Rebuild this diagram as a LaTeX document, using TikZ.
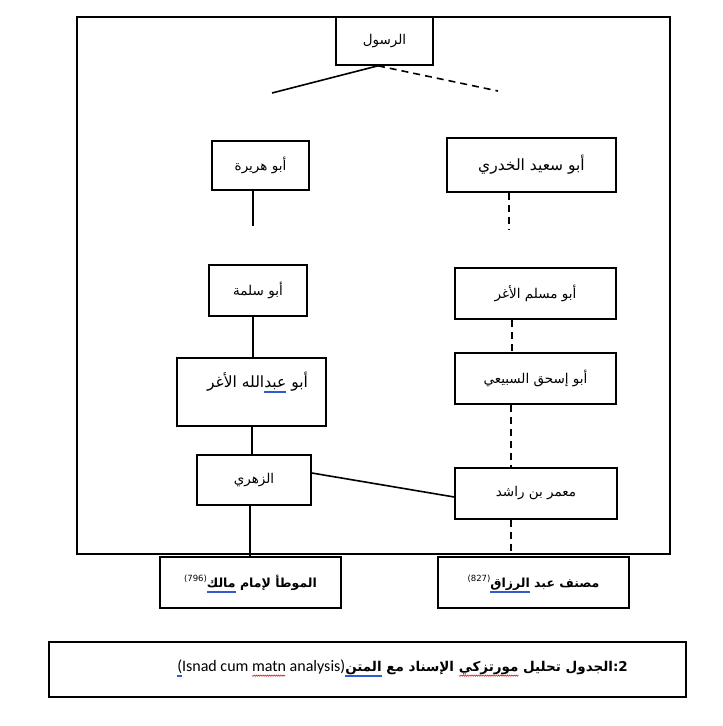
\documentclass[tikz,border=0pt]{standalone}
\usepackage{fontspec}
\TeXXeTstate=1
\newfontfamily\arabicfont[Script=Arabic]{DejaVu Sans}
\newfontfamily\latinfont{Carlito}
\makeatletter
\newsavebox\ulbox
\newcount\zzc
\newdimen\zzx
\newcommand\ulbp{\expandafter\rem@pt\the\dimexpr\wd\ulbox*7200/7227\relax}
\newcommand\blueul{q 0.196 0.353 0.824 rg 0 -4.2 \ulbp\space 0.6 re f 0 -5.8 \ulbp\space 0.6 re f Q}
\newcommand\zzbuild{\zzc=0 \zzx=0pt \edef\zzpath{0 -4.6 m}%
  \loop\advance\zzc by 1 \advance\zzx by 1.1pt
  \ifdim\zzx<\wd\ulbox
    \ifodd\zzc\edef\zzpath{\zzpath\space\expandafter\rem@pt\the\zzx\space -5.3 l}%
    \else\edef\zzpath{\zzpath\space\expandafter\rem@pt\the\zzx\space -3.9 l}\fi
  \repeat}
% R variants: used inside \beginR...\endR, where the inner box is output reversed
\newcommand\dblR[1]{\sbox\ulbox{#1}\hbox{#1\special{pdf:content \blueul}}}
\newcommand\dblL[1]{\sbox\ulbox{#1}\hbox{\special{pdf:content \blueul}#1}}
\newcommand\redR[1]{\sbox\ulbox{#1}\zzbuild\hbox{#1\special{pdf:content q 0.9 0 0 RG 0.5 w \zzpath\space S Q}}}
\newcommand\redL[1]{\sbox\ulbox{#1}\zzbuild\hbox{\special{pdf:content q 0.9 0 0 RG 0.5 w \zzpath\space S Q}#1}}
\makeatother
\tikzset{
  box/.style={draw, line width=1.6pt, inner sep=0pt, fill=white,
    font=\arabicfont\fontsize{13.5}{15}\selectfont},
  bigtext/.style={font=\arabicfont\fontsize{15.5}{17}\selectfont},
  bbox/.style={box, font=\arabicfont\bfseries\fontsize{12.5}{14}\selectfont},
  conn/.style={line width=1.6pt},
  dconn/.style={line width=1.6pt, dash pattern=on 7pt off 5pt},
}
\begin{document}
\begin{tikzpicture}[x=1pt,y=-1pt]
\useasboundingbox (0,0) rectangle (723,726);
\draw[line width=1.6pt] (77,17) rectangle (670,554);

\node[box, minimum width=97pt, minimum height=48pt] (rasul) at (384.5,41) {\beginR الرسول\endR};
\node[box, minimum width=97pt, minimum height=49pt] (hurayra) at (260.5,165.5) {\beginR أبو هريرة\endR};
\node[box, bigtext, minimum width=169pt, minimum height=54pt] (said) at (531.5,165) {\beginR أبو سعيد الخدري\endR};
\node[box, minimum width=98pt, minimum height=51pt] (salama) at (258,290.5) {\beginR أبو سلمة\endR};
\node[box, minimum width=161pt, minimum height=51pt] (muslim) at (535.5,293.5) {\beginR أبو مسلم الأغر\endR};
\node[box, bigtext, minimum width=149pt, text height=29pt, text depth=39pt] (abdallah) at (251.5,392) {\beginR أبو \dblR{عبد}الله الأغر\hskip12pt\endR};
\node[box, minimum width=161pt, minimum height=51pt] (ishaq) at (535.5,378.5) {\beginR أبو إسحق السبيعي\endR};
\node[box, minimum width=114pt, minimum height=50pt] (zuhri) at (254,480) {\beginR الزهري\endR};
\node[box, minimum width=162pt, minimum height=51pt] (mamar) at (536,493.5) {\beginR معمر بن راشد\endR};
\node[bbox, minimum width=181pt, minimum height=51pt] (muwatta) at (250.5,582.5) {\beginR الموطأ لإمام \dblR{مالك}\raisebox{6pt}{\mdseries\fontsize{8.5}{9}\selectfont(796)}\endR};
\node[bbox, minimum width=191pt, minimum height=51pt] (musannaf) at (533.5,582.5) {\beginR مصنف عبد \dblR{الرزاق}\raisebox{6pt}{\mdseries\fontsize{8.5}{9}\selectfont(827)}\endR};

\coordinate (rl) at (272,93);
\coordinate (rr) at (498,91);
\draw[conn] ([xshift=-6.5pt]rasul.south) -- (rl);
\draw[dconn] ([xshift=-6.5pt]rasul.south) -- (rr);
\coordinate (hd) at (253,226);
\draw[conn] (hd |- hurayra.south) -- (hd);
\coordinate (sd) at (509,230);
\draw[dconn] (sd |- said.south) -- (sd);
\draw[conn] ([xshift=-5pt]salama.south) -- ([xshift=-5pt]salama.south |- abdallah.north);
\draw[dconn] ([xshift=-23.5pt]muslim.south) -- ([xshift=-23.5pt]muslim.south |- ishaq.north);
\draw[dconn] ([xshift=-24.5pt]ishaq.south) -- ([xshift=-24.5pt]ishaq.south |- mamar.north);
\draw[conn] ([xshift=0.5pt]abdallah.south) -- ([xshift=0.5pt]abdallah.south |- zuhri.north);
\draw[conn] ([yshift=7pt]zuhri.east) -- ([yshift=-3.5pt]mamar.west);
\draw[conn] ([xshift=-4pt]zuhri.south) -- ([xshift=-4pt]zuhri.south |- muwatta.north);
\draw[dconn] ([xshift=-25pt]mamar.south) -- ([xshift=-25pt]mamar.south |- musannaf.north);

\node[draw, line width=1.6pt, minimum width=637pt, minimum height=55pt, inner sep=0pt] (capbox) at (367.5,669.5) {};
\node[anchor=base east, inner sep=0pt] (captext) at (628,671) {\arabicfont\bfseries\fontsize{13.5}{15}\selectfont\beginR \hbox{2:}\hbox{الجدول} تحليل \redR{مورتزكي} الإسناد مع \dblR{المتن}\beginL{\latinfont\mdseries\fontsize{16}{18}\selectfont\dblL{(}Isnad cum \redL{matn} analysis)}\endL\endR};
\end{tikzpicture}
\end{document}
